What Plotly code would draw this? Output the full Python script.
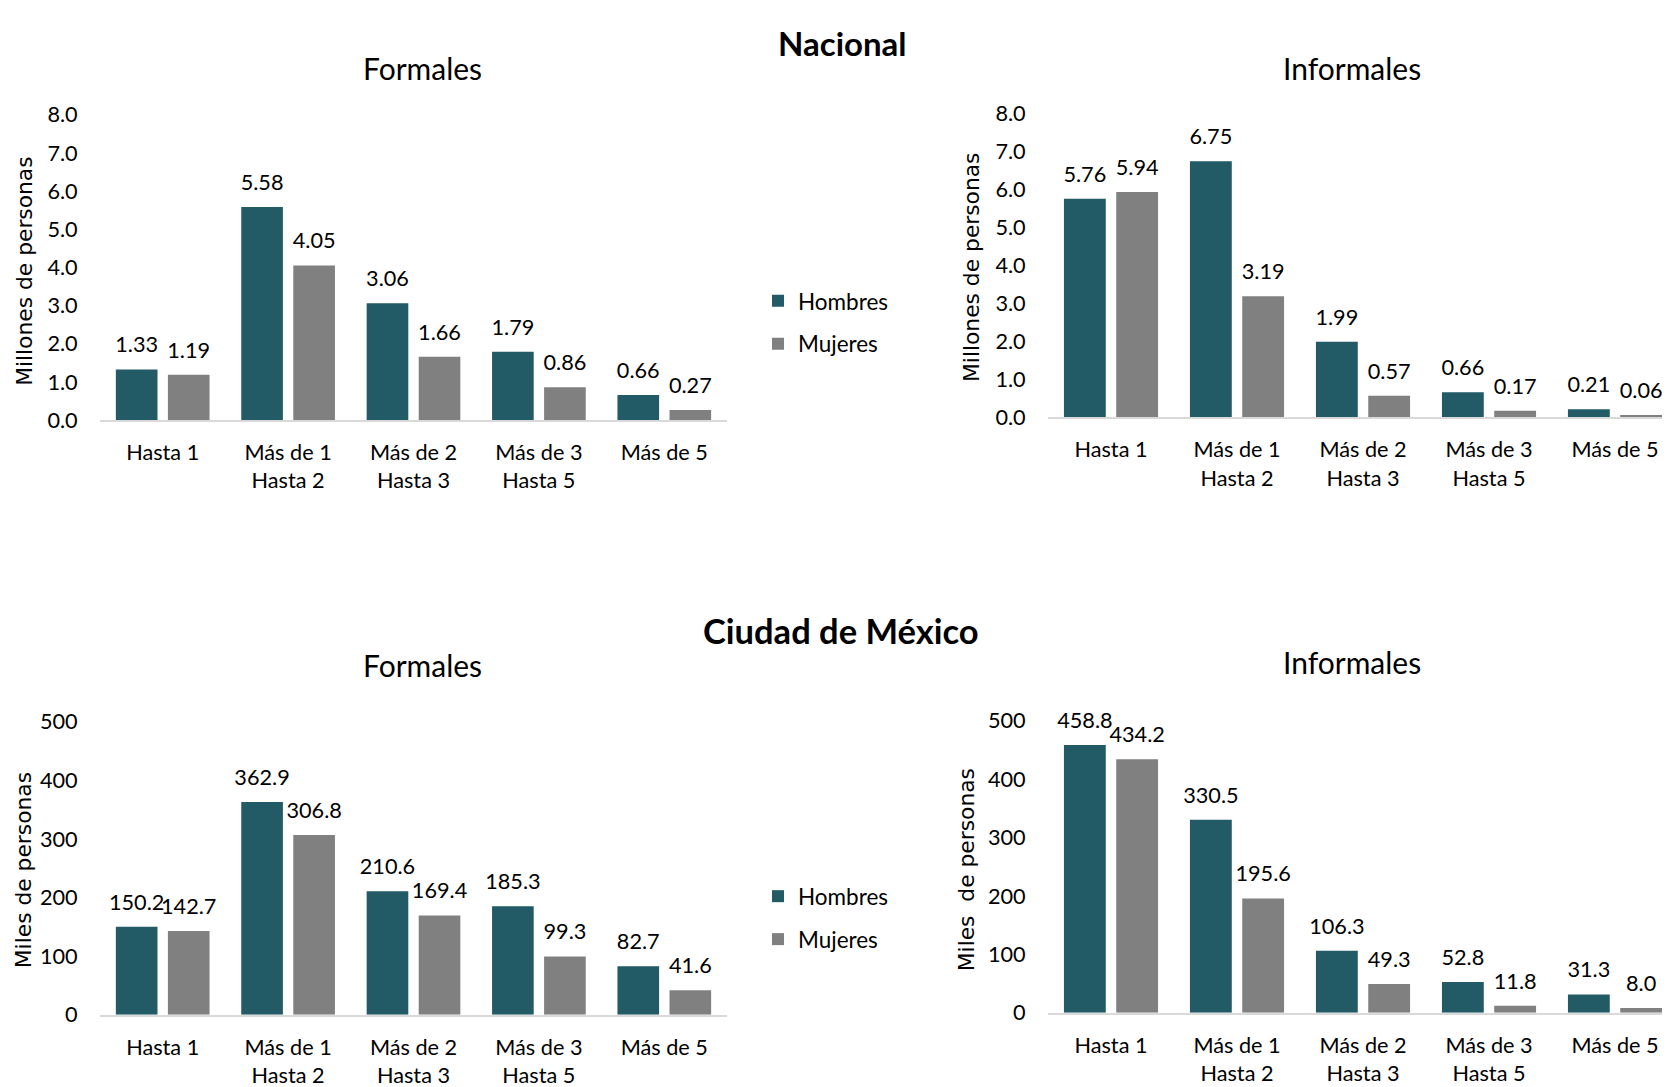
import plotly.graph_objects as go

categories = ["Hasta 1", "Más de 1<br>Hasta 2", "Más de 2<br>Hasta 3", "Más de 3<br>Hasta 5", "Más de 5"]
series_names = ["Hombres", "Mujeres"]

nac_form_h = [1.33, 5.58, 3.06, 1.79, 0.66]
nac_form_m = [1.19, 4.05, 1.66, 0.86, 0.27]
nac_inf_h = [5.76, 6.75, 1.99, 0.66, 0.21]
nac_inf_m = [5.94, 3.19, 0.57, 0.17, 0.06]
cdmx_form_h = [150.2, 362.9, 210.6, 185.3, 82.7]
cdmx_form_m = [142.7, 306.8, 169.4, 99.3, 41.6]
cdmx_inf_h = [458.8, 330.5, 106.3, 52.8, 31.3]
cdmx_inf_m = [434.2, 195.6, 49.3, 11.8, 8.0]

nac_ticks = [0, 1, 2, 3, 4, 5, 6, 7, 8]
cdmx_ticks = [0, 100, 200, 300, 400, 500]

C_H = "#225A66"
C_M = "#808080"
FONT = "Lato"
YT_FONT = "DejaVu Sans"
FS = 21.7

W, H = 1670, 1087

def px(x):
    return x / W

def py(y):
    return 1 - y / H

fig = go.Figure()

panels = [
    ("x", "y", nac_form_h, nac_form_m, "%{y:.2f}", True, "legend", "legend2"),
    ("x2", "y2", nac_inf_h, nac_inf_m, "%{y:.2f}", False, "legend", "legend2"),
    ("x3", "y3", cdmx_form_h, cdmx_form_m, "%{y:.1f}", True, "legend3", "legend4"),
    ("x4", "y4", cdmx_inf_h, cdmx_inf_m, "%{y:.1f}", False, "legend3", "legend4"),
]

for xa, ya, hv, mv, fmt, show, lg_h, lg_m in panels:
    for name, vals, col, lg in ((series_names[0], hv, C_H, lg_h), (series_names[1], mv, C_M, lg_m)):
        fig.add_trace(go.Bar(
            x=categories, y=vals, name=name, xaxis=xa, yaxis=ya,
            marker=dict(color=col, line=dict(width=0)),
            offsetgroup=name, showlegend=show, legend=lg, hoverinfo="skip",
        ))
        fig.add_trace(go.Scatter(
            x=categories, y=vals, xaxis=xa, yaxis=ya, mode="markers+text",
            texttemplate=fmt, textposition="top center", offsetgroup=name,
            marker=dict(size=17, color="rgba(0,0,0,0)"),
            textfont=dict(family=FONT, size=FS, color="#000000"),
            cliponaxis=False, showlegend=False, hoverinfo="skip",
        ))

def xaxis(domain, anchor):
    return dict(domain=domain, anchor=anchor, showgrid=False, zeroline=False, showline=True,
                linecolor="#D9D9D9", linewidth=2, ticks="outside", ticklen=12,
                tickcolor="rgba(0,0,0,0)", tickfont=dict(family=FONT, size=FS, color="#000000"),
                fixedrange=True)

def yaxis(domain, anchor, rng, ticks, fmt):
    return dict(domain=domain, anchor=anchor, range=rng, tickvals=ticks, tickformat=fmt,
                showgrid=False, zeroline=False, showline=False, ticks="outside", ticklen=17,
                tickcolor="rgba(0,0,0,0)", tickfont=dict(family=FONT, size=FS, color="#000000"),
                fixedrange=True)

fig.update_layout(
    width=W, height=H,
    margin=dict(l=0, r=0, t=0, b=0),
    paper_bgcolor="white", plot_bgcolor="white",
    barmode="group", bargap=0.17, bargroupgap=0.2,
    scattermode="group", scattergap=0.17,
    xaxis=xaxis([px(92), px(719)], "y"),
    xaxis2=xaxis([px(1040), 1.0], "y2"),
    xaxis3=xaxis([px(92), px(719)], "y3"),
    xaxis4=xaxis([px(1040), 1.0], "y4"),
    yaxis=yaxis([py(409), py(96)], "x", [0, 8], nac_ticks, ".1f"),
    yaxis2=yaxis([py(406), py(95)], "x2", [0, 8], nac_ticks, ".1f"),
    yaxis3=yaxis([py(1018), py(718)], "x3", [0, 500], cdmx_ticks, "d"),
    yaxis4=yaxis([py(1016), py(717)], "x4", [0, 500], cdmx_ticks, "d"),
)

legend_common = dict(font=dict(family=FONT, size=22.5, color="#000000"), bgcolor="rgba(0,0,0,0)",
                     xanchor="left", yanchor="middle", itemwidth=30)
fig.update_layout(
    legend=dict(legend_common, x=px(750), y=py(287)),
    legend2=dict(legend_common, x=px(750), y=py(331)),
    legend3=dict(legend_common, x=px(750), y=py(897)),
    legend4=dict(legend_common, x=px(750), y=py(941)),
)

annotations = [
    dict(text="<b>Nacional</b>", x=px(834), y=py(23), size=33),
    dict(text="Formales", x=px(414), y=py(48), size=30),
    dict(text="Informales", x=px(1344), y=py(48), size=30),
    dict(text="<b>Ciudad de México</b>", x=px(833), y=py(624), size=34.5),
    dict(text="Formales", x=px(414), y=py(660), size=30),
    dict(text="Informales", x=px(1344), y=py(657), size=30),
]
for a in annotations:
    fig.add_annotation(text=a["text"], x=a["x"], y=a["y"], xref="paper", yref="paper",
                       showarrow=False, xanchor="center", yanchor="middle",
                       font=dict(family=FONT, size=a["size"], color="#000000"))

ytitles = [
    ("Millones de personas", px(17), py(257)),
    ("Millones de personas", px(964), py(253)),
    ("Miles de personas", px(15), py(870)),
    ("Miles\u00a0 de personas", px(958), py(869)),
]
for t, x, y in ytitles:
    fig.add_annotation(text=t, x=x, y=y, xref="paper", yref="paper", showarrow=False,
                       textangle=-90, xanchor="center", yanchor="middle",
                       font=dict(family=YT_FONT, size=21.8, color="#000000"))

fig.write_html("out.html")
